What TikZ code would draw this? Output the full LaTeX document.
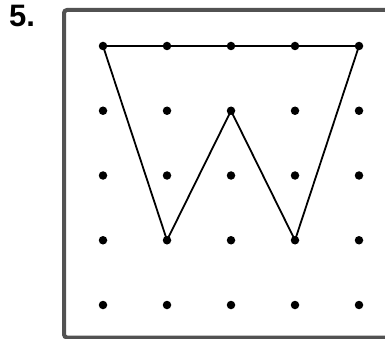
\documentclass[tikz,border=0pt]{standalone}
\usepackage{fontspec}
\setmainfont{Liberation Sans}
\usepackage{tikz}

\begin{document}
\begin{tikzpicture}[x=1pt,y=-1pt,
  dot/.style={circle,fill=black,inner sep=0pt,minimum size=8.5pt},
  frame/.style={draw=black!68,line width=4pt,rounded corners=3pt},
  edge/.style={line width=1.8pt,line join=round}]
\useasboundingbox (0,0) rectangle (385,339);
\node[anchor=north west,inner sep=0pt,font=\fontsize{31}{32}\selectfont\bfseries] (num) at (9,5) {5.};
\draw[frame] (64,10) rectangle (400,337.5);
% dot grid, columns i and rows j
\foreach \i in {0,...,4}
  \foreach \j in {0,...,4}
    \node[dot] (d\i\j) at (103+64*\i,46+64.75*\j) {};
\draw[edge] (d00.center) -- (d40.center) -- (d33.center) -- (d21.center)
  -- (d13.center) -- cycle;
\end{tikzpicture}
\end{document}
